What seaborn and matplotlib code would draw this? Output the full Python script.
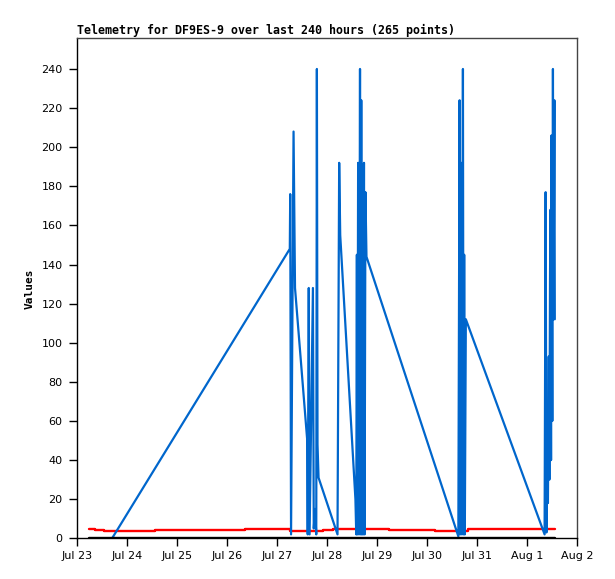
import matplotlib
matplotlib.use("Agg")
import matplotlib.pyplot as plt
import matplotlib.dates as mdates
import seaborn as sns
import pandas as pd

# ---- data (hours since Jul 23 00:00) ----
start = pd.Timestamp("2024-07-23 00:00")

blue_hours = [16.7, 102.0, 102.2, 102.6, 103.8, 104.5, 110.3, 110.6, 111.1, 111.5,
              113.1, 113.5, 114.1, 114.7, 115.0, 115.3, 115.8, 124.9, 125.7, 126.2,
              133.5, 133.9, 134.2, 134.4, 134.8, 135.2, 135.7, 136.0, 136.3, 136.6,
              136.9, 137.2, 137.6, 137.9, 138.3, 138.8, 182.9, 183.5, 183.8, 184.2,
              184.6, 185.1, 185.4, 185.7, 186.0, 186.5, 224.3, 224.8, 225.2, 225.6,
              225.9, 226.3, 226.6, 226.9, 227.1, 227.4, 227.6, 228.0, 228.3, 228.6,
              229.0, 229.2]
blue_values = [0, 148, 176, 2, 208, 128, 51, 2, 128, 2,
               128, 5, 15, 2, 240, 48, 31, 2, 192, 155,
               20, 2, 145, 2, 192, 2, 240, 2, 224, 2,
               137, 2, 192, 2, 177, 144, 1, 224, 2, 192,
               2, 240, 2, 145, 2, 112, 2, 177, 3, 56,
               18, 93, 30, 131, 168, 40, 206, 60, 240, 112,
               224, 112]

red_hours = [5.6, 8.3, 12.9, 37.5, 80.7, 102.3, 117.7, 122.9, 149.8, 171.9, 187.3, 229.3]
red_values = [4.8, 4.1, 3.6, 4.1, 4.8, 3.6, 4.3, 4.8, 4.1, 3.6, 4.8, 4.8]

black_hours = [5.6, 229.3]
black_values = [0, 0]

y_ticks = list(range(0, 241, 20))
title = "Telemetry for DF9ES-9 over last 240 hours (265 points)"
y_label = "Values"


def frame(hours, values):
    return pd.DataFrame({"time": start + pd.to_timedelta(hours, unit="h"),
                         "value": values})


sns.set_style("white")
plt.rcParams["font.family"] = ["DejaVu Sans"]
plt.rcParams["text.color"] = "black"
plt.rcParams["axes.labelcolor"] = "black"

fig = plt.figure(figsize=(6.15, 5.79), dpi=100)
ax = fig.add_axes([0.1257, 0.0703, 0.8130, 0.8636])

sns.lineplot(data=frame(red_hours, red_values), x="time", y="value", ax=ax,
             color="#ff0000", lw=1.7, drawstyle="steps-post", estimator=None,
             sort=False, zorder=2)
sns.lineplot(data=frame(blue_hours, blue_values), x="time", y="value", ax=ax,
             color="#0066cc", lw=1.6, estimator=None, sort=False, zorder=3)
sns.lineplot(data=frame(black_hours, black_values), x="time", y="value", ax=ax,
             color="#000000", lw=1.7, estimator=None, sort=False, zorder=4)

ax.set_xlim(start, start + pd.Timedelta(days=10))
ax.set_ylim(0, 255.7)
ax.xaxis.set_major_locator(mdates.DayLocator())
ax.xaxis.set_major_formatter(mdates.DateFormatter("%b %-d"))
ax.set_yticks(y_ticks)
ax.tick_params(bottom=True, left=True, direction="out", length=5.5, width=1,
               color="black", labelsize=8, labelcolor="black")
ax.tick_params(axis="x", pad=3.5)
ax.tick_params(axis="y", pad=5)

ax.set_xlabel("")
ax.set_ylabel(y_label, fontfamily="DejaVu Sans Mono", fontweight="bold",
              fontsize=8, color="black")
ax.yaxis.set_label_coords(-0.0846, 0.5)
ax.set_title(title, loc="left", fontfamily="DejaVu Sans Mono",
             fontweight="bold", fontsize=8.4, pad=3.1, color="black")

for side in ["left", "bottom"]:
    ax.spines[side].set_color("black")
    ax.spines[side].set_linewidth(1)
for side in ["top", "right"]:
    ax.spines[side].set_color("#444444")
    ax.spines[side].set_linewidth(1)

fig.savefig("out.png", dpi=100)
